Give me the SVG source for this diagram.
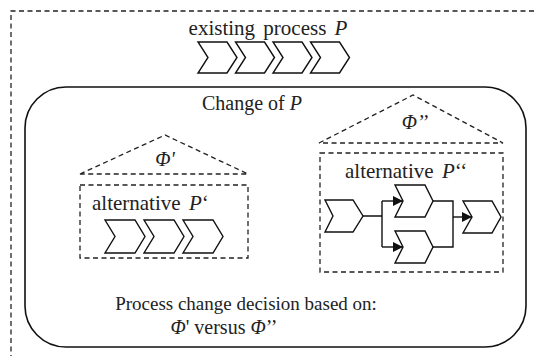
<svg xmlns="http://www.w3.org/2000/svg" width="536" height="356" viewBox="0 0 536 356">
<defs>
<style>
.dash{fill:none;stroke:#222;stroke-width:1.3;stroke-dasharray:5,3.5}
.chev{fill:#fff;stroke:#111;stroke-width:1.4;stroke-linejoin:miter}
.ln{fill:none;stroke:#111;stroke-width:1.4}
.t{font-family:'Liberation Serif','DejaVu Serif',serif;font-size:20px;fill:#222}
.i{font-style:italic}
</style>
<marker id="ah" viewBox="0 0 10 10" refX="10" refY="5" markerWidth="10" markerHeight="10" markerUnits="userSpaceOnUse" orient="auto">
<path d="M0,0 L10,5 L0,10 Z" fill="#111"/>
</marker>
</defs>
<rect width="536" height="356" fill="#fff"/>
<g id="frame">
<path class="dash" d="M11,360 V11 H540"/>
</g>
<g id="existing">
<text class="t" x="268" y="35" text-anchor="middle" style="font-size:21px" word-spacing="3">existing process <tspan class="i">P</tspan></text>
<path class="chev" d="M198,42 h29 l10,15.5 l-10,15.5 h-29 l10,-15.5 Z"/>
<path class="chev" d="M235.5,42 h29 l10,15.5 l-10,15.5 h-29 l10,-15.5 Z"/>
<path class="chev" d="M273,42 h29 l10,15.5 l-10,15.5 h-29 l10,-15.5 Z"/>
<path class="chev" d="M310.5,42 h29 l10,15.5 l-10,15.5 h-29 l10,-15.5 Z"/>
</g>
<g id="change">
<rect x="25" y="87" width="501" height="260" rx="41" ry="41" fill="none" stroke="#111" stroke-width="1.6"/>
<text class="t" x="252" y="110" text-anchor="middle">Change of <tspan class="i">P</tspan></text>
<text class="t" x="246" y="310" text-anchor="middle" style="font-size:19px">Process change decision based on:</text>
<text class="t" x="224" y="334" text-anchor="middle"><tspan class="i">Φ</tspan>' versus <tspan class="i">Φ</tspan>’’</text>
</g>
<g id="alt1">
<path class="dash" d="M80,174 L165,135 L248,174 Z"/>
<text class="t i" x="165" y="166" text-anchor="middle">Φ'</text>
<rect class="dash" x="80" y="185" width="168" height="73"/>
<text class="t" x="92" y="210" style="font-size:21px" word-spacing="3">alternative <tspan class="i">P</tspan>‘</text>
<path class="chev" d="M105,220 h30 l10,16.5 l-10,16.5 h-30 l10,-16.5 Z"/>
<path class="chev" d="M144,220 h30 l10,16.5 l-10,16.5 h-30 l10,-16.5 Z"/>
<path class="chev" d="M183,220 h30 l10,16.5 l-10,16.5 h-30 l10,-16.5 Z"/>
</g>
<g id="alt2">
<path class="dash" d="M319,143 L413,95 L503,143 Z"/>
<text class="t i" x="415" y="129" text-anchor="middle">Φ’’</text>
<rect class="dash" x="320" y="153" width="183" height="119"/>
<text class="t" x="345" y="178" style="font-size:21px" word-spacing="3">alternative <tspan class="i">P</tspan>‘‘</text>
<path class="chev" d="M325,200 h28 l10,16 l-10,16 h-28 l8,-16 Z"/>
<path class="chev" d="M395,185 h30 l8,16 l-8,16 h-30 l8,-16 Z"/>
<path class="chev" d="M395,231 h30 l8,16 l-8,16 h-30 l8,-16 Z"/>
<path class="chev" d="M463,201 h29 l9,16 l-9,16 h-29 l9,-16 Z"/>
</g>
<g id="connectors">
<path class="ln" d="M363,216 H382 M382,201 V247"/>
<path class="ln" d="M382,201 H403" marker-end="url(#ah)"/>
<path class="ln" d="M382,247 H403" marker-end="url(#ah)"/>
<path class="ln" d="M433,201 H453 V247 H433"/>
<path class="ln" d="M453,217 H472" marker-end="url(#ah)"/>
</g>
</svg>
